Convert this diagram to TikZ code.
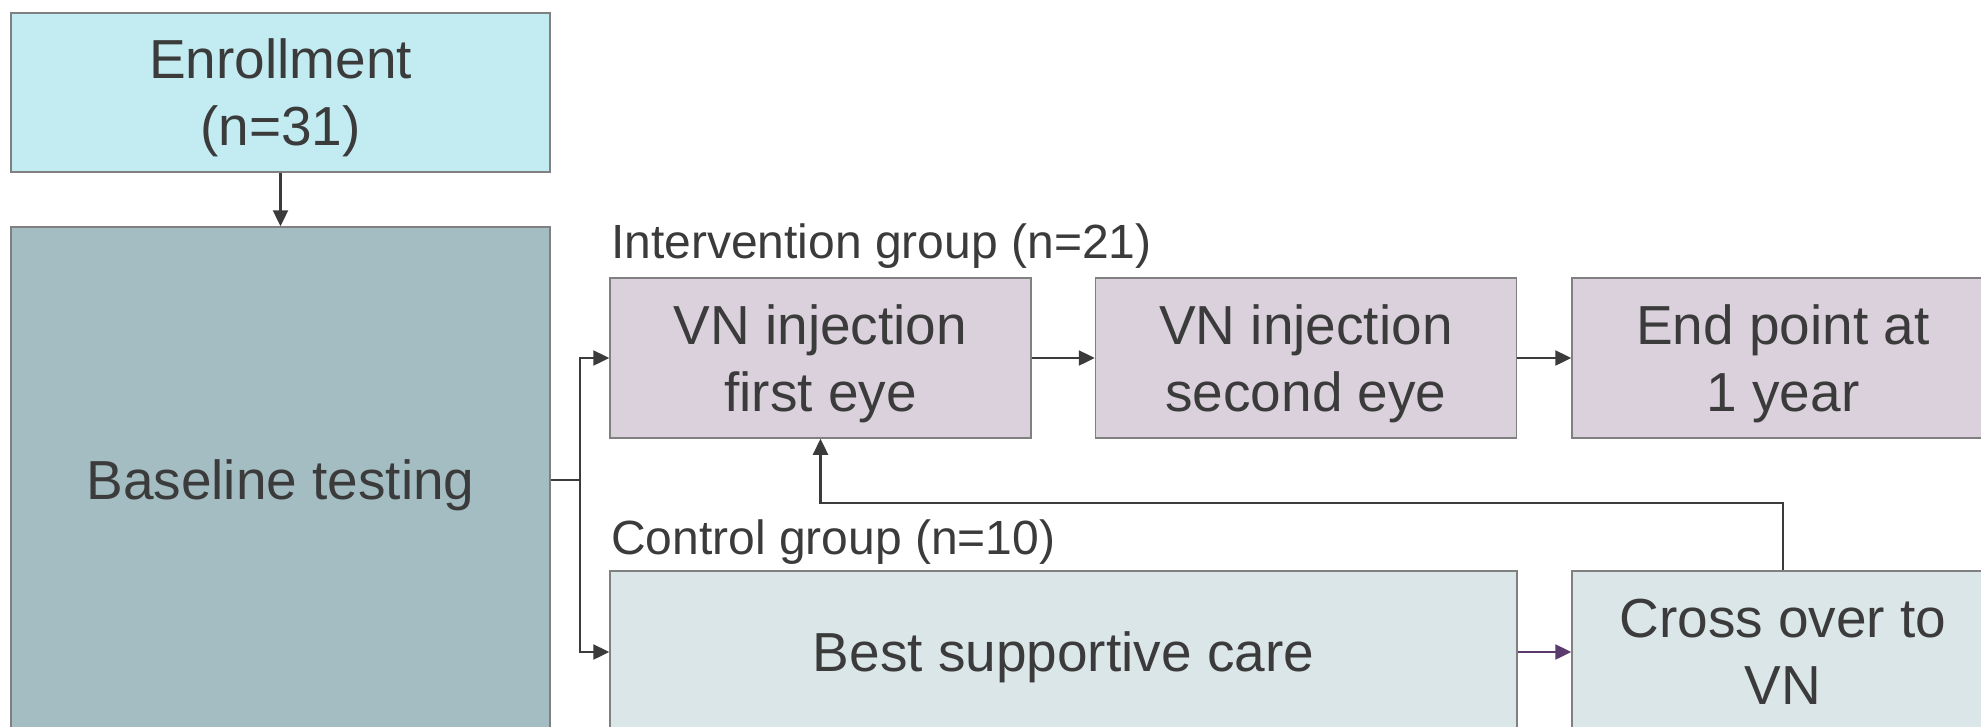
\documentclass[tikz,border=0pt]{standalone}
\usepackage{fontspec}
\setmainfont{Liberation Sans}
\usetikzlibrary{arrows.meta}
\definecolor{txt}{HTML}{3B3B3B}
\definecolor{bordergray}{HTML}{808080}
\definecolor{enrollfill}{HTML}{C2ECF1}
\definecolor{basefill}{HTML}{A4BDC2}
\definecolor{vnfill}{HTML}{DBD1DD}
\definecolor{ctrlfill}{HTML}{DBE6E8}
\definecolor{purplearr}{HTML}{5B3A6E}
\begin{document}
\begin{tikzpicture}[x=1pt,y=-1pt,
  box/.style={draw=bordergray, line width=1.5pt, inner sep=0pt, text=txt, align=center,
    font=\fontsize{55}{67}\selectfont, text depth=0pt},
  arr/.style={draw=txt, line width=2.4pt, -{Triangle[length=16pt,width=15pt]}},
  lbl/.style={text=txt, font=\fontsize{48}{56}\selectfont, inner sep=0pt, anchor=base west}]
\useasboundingbox (0,0) rectangle (1981,726);
\fill[white] (0,0) rectangle (1981,726);
\clip (0,0) rectangle (1981,726);
\node[box, fill=enrollfill, minimum width=539pt, minimum height=159pt] (enroll) at (280.5,92.5) {Enrollment\\(n=31)};
\node[box, fill=basefill, minimum width=539pt, minimum height=506pt] (base) at (280.5,480) {Baseline testing};
\node[lbl] (intlbl) at (611,258) {Intervention group (n=21)};
\node[box, fill=vnfill, minimum width=421pt, minimum height=160pt] (vn1) at (820.5,358) {VN injection\\first eye};
\node[box, fill=vnfill, minimum width=421pt, minimum height=160pt] (vn2) at (1306,358) {VN injection\\second eye};
\node[box, fill=vnfill, minimum width=422pt, minimum height=160pt] (endp) at (1783,358) {End point at\\1 year};
\node[lbl] (ctrllbl) at (611,554) {Control group (n=10)};
\node[box, fill=ctrlfill, minimum width=907pt, minimum height=162pt] (bsc) at (1063.5,652) {Best supportive care};
\node[box, fill=ctrlfill, minimum width=422pt, minimum height=162pt] (cross) at (1783,652) {Cross over to\\VN};
\draw[arr] (enroll.south) -- (base.north);
\draw[arr] (base.east) -- ++(29.5,0) |- (vn1.west);
\draw[arr] (base.east) -- ++(29.5,0) |- (bsc.west);
\draw[arr] (vn1.east) -- (vn2.west);
\draw[arr] (vn2.east) -- (endp.west);
\draw[arr, draw=purplearr, fill=purplearr] (bsc.east) -- (cross.west);
\draw[arr] (cross.north) -- ++(0,-67) -| (vn1.south);
\end{tikzpicture}
\end{document}
